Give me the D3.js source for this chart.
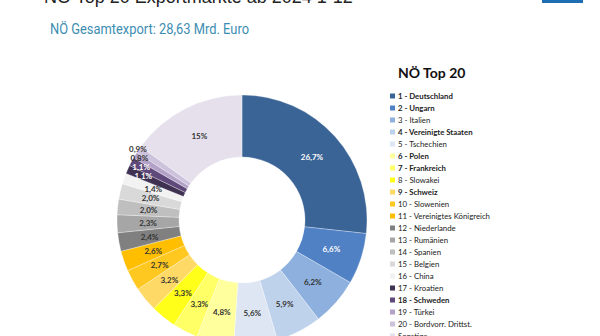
<!DOCTYPE html>
<html><head><meta charset="utf-8">
<script src="https://cdn.jsdelivr.net/npm/d3@7"></script>
<style>html,body{margin:0;padding:0;background:#fff;overflow:hidden}</style>
</head><body><svg id="c" width="600" height="336"></svg>
<script>
const categories = ["1 - Deutschland","2 - Ungarn","3 - Italien","4 - Vereinigte Staaten","5 - Tschechien","6 - Polen","7 - Frankreich","8 - Slowakei","9 - Schweiz","10 - Slowenien","11 - Vereinigtes Königreich","12 - Niederlande","13 - Rumänien","14 - Spanien","15 - Belgien","16 - China","17 - Kroatien","18 - Schweden","19 - Türkei","20 - Bordvorr. Drittst.","Sonstige"];
const shares = [26.7,6.6,6.2,5.9,5.6,4.8,3.3,3.3,3.2,2.7,2.6,2.4,2.3,2.0,2.0,1.4,1.1,1.1,0.8,0.9,15];
const shareLabels = ["26,7%","6,6%","6,2%","5,9%","5,6%","4,8%","3,3%","3,3%","3,2%","2,7%","2,6%","2,4%","2,3%","2,0%","2,0%","1,4%","1,1%","1,1%","0,8%","0,9%","15%"];
const boldEntries = ["1 - Deutschland","2 - Ungarn","4 - Vereinigte Staaten","6 - Polen","7 - Frankreich","9 - Schweiz","18 - Schweden"];
const palette = ["#3a6496","#4f81c4","#8db0de","#bfd2ec","#dde6f2","#ffff9e","#ffff66","#ffff1a","#ffd966","#ffc820","#ffbf00","#808080","#a6a6a6","#bfbfbf","#d9d9d9","#f2f2f2","#3f3151","#5f497a","#b3a2c8","#cdc2dc","#e5e0ec"];
const whiteLabel = ["1 - Deutschland","2 - Ungarn","17 - Kroatien","18 - Schweden"];

const svg = d3.select("#c");
const cx = 242, cy = 220, rOut = 125, rIn = 63;

// header
svg.append("text").attr("x",44).attr("y",3).attr("font-family","Liberation Sans, Arial, sans-serif")
  .attr("font-size",18).attr("fill","#222").text("NÖ Top 20 Exportmärkte ab 2024 1-12");
svg.append("rect").attr("x",542).attr("y",0).attr("width",41).attr("height",3).attr("fill","#1f6eb4");
svg.append("text").attr("x",50).attr("y",34).attr("font-family","Roboto, sans-serif")
  .attr("font-size",14).attr("fill","#3d8db2")
  .attr("textLength",199).attr("lengthAdjust","spacingAndGlyphs")
  .text("NÖ Gesamtexport: 28,63 Mrd. Euro");

const data = categories.map((c,i)=>({name:c, v:shares[i], label:shareLabels[i], color:palette[i]}));
const pie = d3.pie().value(d=>d.v).sort(null);
const arcs = pie(data);
const arc = d3.arc().innerRadius(rIn).outerRadius(rOut);
const g = svg.append("g").attr("transform",`translate(${cx},${cy})`);
g.selectAll("path").data(arcs).join("path").attr("d",arc).attr("fill",d=>d.data.color)
  .attr("stroke","#fff").attr("stroke-width",0.3);

// labels: tiny trailing slices pushed outward so they do not collide
let k = 0;
g.selectAll("text.lbl").data(arcs).join("text").attr("class","lbl")
  .each(function(d){
    let r = 94;
    if (d.data.v < 1.2) { r = 108 + 6*k; k++; }
    const a = (d.startAngle + d.endAngle)/2;
    d3.select(this).attr("x", r*Math.sin(a)).attr("y", -r*Math.cos(a));
  })
  .attr("text-anchor","middle").attr("dominant-baseline","central")
  .attr("font-family","Lato, sans-serif").attr("font-weight","bold").attr("font-size",8)
  .attr("fill",d=>whiteLabel.includes(d.data.name)?"#fff":"#333").text(d=>d.data.label);

// legend
svg.append("text").attr("x",398).attr("y",78).attr("font-family","Lato, sans-serif").attr("font-weight","bold")
  .attr("font-size",14).attr("fill","#111").text("NÖ Top 20");
const y = d3.scaleLinear().domain([0,1]).range([96,108]);
const lg = svg.append("g");
const items = lg.selectAll("g").data(data).join("g").attr("transform",(d,i)=>`translate(390,${y(i)})`);
items.append("rect").attr("x",0).attr("y",-2.5).attr("width",5).attr("height",5).attr("fill",d=>d.color);
items.append("text").attr("x",8).attr("y",0).attr("dominant-baseline","central")
  .attr("font-family","Lato, sans-serif").attr("font-size",7.8)
  .attr("font-weight",d=>boldEntries.includes(d.name)?"bold":"normal").attr("fill","#222").text(d=>d.name);
</script></body></html>
